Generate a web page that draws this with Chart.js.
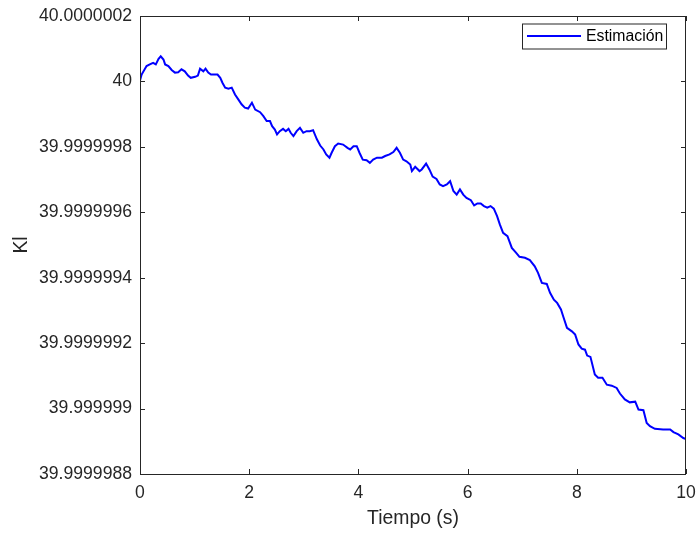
<!DOCTYPE html>
<html>
<head>
<meta charset="utf-8">
<script src="https://cdn.jsdelivr.net/npm/chart.js@4/dist/chart.umd.min.js"></script>
<style>
  html, body { margin: 0; padding: 0; background: #fff; }
  canvas { display: block; }
</style>
</head>
<body>
<canvas id="chart" width="699" height="534"></canvas>
<script>
// tiempo (s)
const tiempo = [
  0, 0.03, 0.12, 0.18, 0.24, 0.29, 0.34, 0.38, 0.43, 0.46, 0.52, 0.58, 0.64, 0.70, 0.76, 0.82, 0.88, 0.93,
  1.01, 1.06, 1.10, 1.16, 1.20, 1.25, 1.30, 1.34, 1.42, 1.47, 1.51, 1.56, 1.62, 1.68, 1.74, 1.80, 1.86, 1.92, 1.98,
  2.05, 2.11, 2.20, 2.26, 2.32, 2.38, 2.42, 2.47, 2.51, 2.56, 2.62, 2.67, 2.72, 2.76, 2.81, 2.87, 2.93, 2.99,
  3.05, 3.11, 3.17, 3.24, 3.30, 3.36, 3.41, 3.47, 3.51, 3.57, 3.63, 3.72, 3.80, 3.85, 3.91, 3.97,
  4.02, 4.08, 4.15, 4.21, 4.27, 4.34, 4.43, 4.49, 4.57, 4.64, 4.70, 4.76, 4.82, 4.88, 4.95, 4.98,
  5.04, 5.12, 5.16, 5.24, 5.30, 5.36, 5.43, 5.49, 5.55, 5.62, 5.68, 5.74, 5.80, 5.86, 5.92, 5.98,
  6.06, 6.12, 6.18, 6.24, 6.30, 6.36, 6.42, 6.48, 6.54, 6.59, 6.65, 6.73, 6.81, 6.89, 6.95,
  7.05, 7.14, 7.23, 7.29, 7.36, 7.45, 7.51, 7.58, 7.64, 7.71, 7.75, 7.82, 7.91, 7.97,
  8.03, 8.09, 8.15, 8.19, 8.25, 8.33, 8.39, 8.47, 8.55, 8.64, 8.73, 8.79, 8.88, 8.97,
  9.07, 9.13, 9.22, 9.28, 9.34, 9.43, 9.58, 9.71, 9.77, 9.86, 9.95, 10.0
];

// estimación de Kl: desviación respecto de 40, en unidades de 1e-7
const estimacionOffset = [
  0.03, 0.21, 0.47, 0.52, 0.57, 0.52, 0.69, 0.77, 0.67, 0.52, 0.47, 0.35, 0.27, 0.28, 0.37, 0.31, 0.18, 0.11,
  0.14, 0.18, 0.39, 0.31, 0.39, 0.27, 0.21, 0.21, 0.21, 0.11, -0.04, -0.19, -0.22, -0.19, -0.40, -0.55, -0.70, -0.80, -0.83,
  -0.65, -0.86, -0.94, -1.06, -1.21, -1.21, -1.37, -1.47, -1.62, -1.52, -1.45, -1.52, -1.45, -1.57, -1.67, -1.52, -1.42, -1.57,
  -1.52, -1.52, -1.49, -1.77, -1.96, -2.08, -2.23, -2.33, -2.18, -1.98, -1.90, -1.93, -2.03, -2.08, -1.98, -1.98,
  -2.18, -2.39, -2.41, -2.49, -2.39, -2.33, -2.33, -2.28, -2.23, -2.16, -2.03, -2.18, -2.39, -2.44, -2.54, -2.74,
  -2.61, -2.74, -2.69, -2.51, -2.69, -2.91, -2.98, -3.15, -3.20, -3.15, -3.05, -3.35, -3.46, -3.30, -3.46, -3.56,
  -3.63, -3.79, -3.73, -3.73, -3.81, -3.86, -3.81, -3.89, -4.12, -4.37, -4.63, -4.73, -5.09, -5.24, -5.36,
  -5.39, -5.46, -5.65, -5.85, -6.16, -6.19, -6.46, -6.67, -6.77, -6.97, -7.18, -7.53, -7.64, -7.74,
  -8.04, -8.17, -8.20, -8.38, -8.42, -8.96, -9.06, -9.06, -9.27, -9.30, -9.37, -9.54, -9.72, -9.81,
  -9.79, -10.03, -10.05, -10.44, -10.54, -10.62, -10.64, -10.64, -10.72, -10.79, -10.90, -10.93
];

const KL_REF = 40;
const KL_UNIT = 1e-7;

const xTicks = [0, 2, 4, 6, 8, 10];
const yTickOffsets = [2, 0, -2, -4, -6, -8, -10, -12];
const yTickLabels = ['40.0000002', '40', '39.9999998', '39.9999996', '39.9999994', '39.9999992', '39.999999', '39.9999988'];

const AXIS = '#262626';
const FONT = '"Liberation Sans", Arial, sans-serif';

const toKl = off => KL_REF + off * KL_UNIT;
const puntos = tiempo.map((t, i) => ({ x: t, y: toKl(estimacionOffset[i]) }));
const yTickValues = yTickOffsets.map(toKl);

// marco, marcas interiores, títulos de ejes y leyenda
const marcoPlugin = {
  id: 'marco',
  afterDraw(chart) {
    const { ctx, chartArea: a, scales: { x, y } } = chart;
    ctx.save();
    ctx.strokeStyle = AXIS;
    ctx.lineWidth = 1;
    ctx.strokeRect(a.left + 0.5, a.top + 0.5, a.right - a.left - 1, a.bottom - a.top);
    const tl = 5;
    ctx.beginPath();
    for (const v of xTicks) {
      const px = Math.round(x.getPixelForValue(v)) + 0.5;
      ctx.moveTo(px, a.bottom); ctx.lineTo(px, a.bottom - tl);
      ctx.moveTo(px, a.top); ctx.lineTo(px, a.top + tl);
    }
    for (const v of yTickValues) {
      const py = Math.round(y.getPixelForValue(v)) + 0.5;
      ctx.moveTo(a.left, py); ctx.lineTo(a.left + tl, py);
      ctx.moveTo(a.right, py); ctx.lineTo(a.right - tl, py);
    }
    ctx.stroke();

    // títulos
    ctx.fillStyle = AXIS;
    ctx.font = '19.4px ' + FONT;
    ctx.textAlign = 'center';
    ctx.textBaseline = 'middle';
    ctx.fillText('Tiempo (s)', (a.left + a.right) / 2, 519);
    ctx.save();
    ctx.translate(22, (a.top + a.bottom) / 2);
    ctx.rotate(-Math.PI / 2);
    ctx.fillText('Kl', 0, 0);
    ctx.restore();

    // leyenda
    const lx = 522, ly = 23.5, lw = 144, lh = 25;
    ctx.fillStyle = '#fff';
    ctx.fillRect(lx, ly, lw, lh);
    ctx.strokeStyle = AXIS;
    ctx.strokeRect(lx + 0.5, ly + 0.5, lw, lh);
    const ds = chart.data.datasets[0];
    ctx.strokeStyle = ds.borderColor;
    ctx.lineWidth = 2;
    ctx.beginPath();
    ctx.moveTo(527, 36); ctx.lineTo(581, 36);
    ctx.stroke();
    ctx.fillStyle = '#000';
    ctx.font = '15.8px ' + FONT;
    ctx.textAlign = 'left';
    ctx.fillText(ds.label, 586, 36.5);
    ctx.restore();
  }
};

new Chart(document.getElementById('chart'), {
  type: 'line',
  data: {
    datasets: [{
      label: 'Estimación',
      data: puntos,
      borderColor: '#0000ff',
      borderWidth: 2,
      pointRadius: 0,
      tension: 0,
      fill: false
    }]
  },
  options: {
    responsive: false,
    devicePixelRatio: 1,
    animation: false,
    layout: { padding: { top: 16, right: 13, left: 0, bottom: 0 } },
    plugins: { legend: { display: false }, tooltip: { enabled: false } },
    scales: {
      x: {
        type: 'linear',
        min: 0, max: 10,
        afterFit: s => { s.height = 60; s.paddingLeft = 0; s.paddingRight = 0; },
        afterBuildTicks: s => { s.ticks = xTicks.map(v => ({ value: v })); },
        grid: { display: false, drawTicks: false },
        border: { display: false },
        ticks: { color: AXIS, padding: 9, maxRotation: 0, font: { family: FONT, size: 17.6 } }
      },
      y: {
        type: 'linear',
        min: toKl(-12), max: toKl(2),
        afterFit: s => { s.width = 140; s.paddingTop = 0; s.paddingBottom = 0; },
        afterBuildTicks: s => { s.ticks = yTickValues.map(v => ({ value: v })); },
        grid: { display: false, drawTicks: false },
        border: { display: false },
        ticks: {
          color: AXIS, padding: 8, font: { family: FONT, size: 17.6 },
          callback: (v, i) => yTickLabels[i]
        }
      }
    }
  },
  plugins: [marcoPlugin]
});
</script>
</body>
</html>
